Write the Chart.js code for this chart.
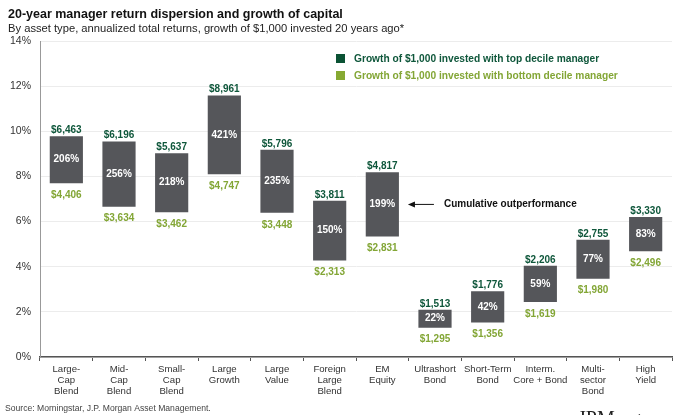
<!DOCTYPE html>
<html>
<head>
<meta charset="utf-8">
<script src="https://cdn.jsdelivr.net/npm/chart.js@4.4.1/dist/chart.umd.min.js"></script>
<style>
  html, body { margin: 0; padding: 0; background: #ffffff; }
  #wrap { width: 680px; height: 415px; position: relative; }
</style>
</head>
<body>
<div id="wrap"><canvas id="c" width="680" height="415"></canvas></div>
<script>
// ---- data ----
const categories = [
  ["Large-", "Cap", "Blend"], ["Mid-", "Cap", "Blend"], ["Small-", "Cap", "Blend"],
  ["Large", "Growth"], ["Large", "Value"], ["Foreign", "Large", "Blend"],
  ["EM", "Equity"], ["Ultrashort", "Bond"], ["Short-Term", "Bond"],
  ["Interm.", "Core + Bond"], ["Multi-", "sector", "Bond"], ["High", "Yield"]
];
const topDecilePct    = [9.78, 9.55, 9.03, 11.59, 9.18, 6.92, 8.18, 2.09, 2.91, 4.04, 5.20, 6.20];
const bottomDecilePct = [7.70, 6.66, 6.41, 8.10, 6.39, 4.28, 5.34, 1.30, 1.53, 2.44, 3.47, 4.68];
const topDecileGrowth    = ["$6,463", "$6,196", "$5,637", "$8,961", "$5,796", "$3,811", "$4,817", "$1,513", "$1,776", "$2,206", "$2,755", "$3,330"];
const bottomDecileGrowth = ["$4,406", "$3,634", "$3,462", "$4,747", "$3,448", "$2,313", "$2,831", "$1,295", "$1,356", "$1,619", "$1,980", "$2,496"];
const outperformance = ["206%", "256%", "218%", "421%", "235%", "150%", "199%", "22%", "42%", "59%", "77%", "83%"];
const yTicks = [0, 2, 4, 6, 8, 10, 12, 14];
const annotationIndex = 6;

const FONT = "'Liberation Sans', Arial, sans-serif";
const GREEN_DARK = "#0f573b";
const GREEN_LIGHT = "#83a636";

const ranges = topDecilePct.map((t, i) => [bottomDecilePct[i], t]);

const decor = {
  id: "decor",
  afterDatasetsDraw(chart) {
    const ctx = chart.ctx;
    const meta = chart.getDatasetMeta(0);
    const y = chart.scales.y;
    ctx.save();
    ctx.font = "bold 10px " + FONT;
    ctx.textAlign = "center";
    meta.data.forEach((bar, i) => {
      const yt = y.getPixelForValue(topDecilePct[i]);
      const yb = y.getPixelForValue(bottomDecilePct[i]);
      ctx.textBaseline = "alphabetic";
      ctx.fillStyle = GREEN_DARK;
      ctx.fillText(topDecileGrowth[i], bar.x, yt - 3);
      ctx.fillStyle = GREEN_LIGHT;
      ctx.textBaseline = "middle";
      ctx.fillText(bottomDecileGrowth[i], bar.x, yb + 12);
      ctx.fillStyle = "#ffffff";
      ctx.fillText(outperformance[i], bar.x, (yt + yb) / 2);
    });
    // annotation
    const b = meta.data[annotationIndex];
    const ay = (y.getPixelForValue(topDecilePct[annotationIndex]) + y.getPixelForValue(bottomDecilePct[annotationIndex])) / 2;
    const ax = b.x + b.width / 2 + 9;
    ctx.strokeStyle = "#111";
    ctx.lineWidth = 1;
    ctx.beginPath();
    ctx.moveTo(ax + 26, ay);
    ctx.lineTo(ax + 3, ay);
    ctx.stroke();
    ctx.fillStyle = "#111";
    ctx.beginPath();
    ctx.moveTo(ax, ay);
    ctx.lineTo(ax + 7, ay - 3);
    ctx.lineTo(ax + 7, ay + 3);
    ctx.closePath();
    ctx.fill();
    ctx.textAlign = "left";
    ctx.textBaseline = "middle";
    ctx.font = "bold 10px " + FONT;
    ctx.fillText("Cumulative outperformance", ax + 36, ay);

    // titles
    ctx.textBaseline = "alphabetic";
    ctx.fillStyle = "#111";
    ctx.font = "bold 12.5px " + FONT;
    ctx.fillText("20-year manager return dispersion and growth of capital", 8, 18);
    ctx.font = "11.2px " + FONT;
    ctx.fillStyle = "#222";
    ctx.fillText("By asset type, annualized total returns, growth of $1,000 invested 20 years ago*", 8, 32);

    // legend
    ctx.fillStyle = "#0b5234";
    ctx.fillRect(336, 54, 9, 9);
    ctx.fillStyle = "#86a932";
    ctx.fillRect(336, 71, 9, 9);
    ctx.font = "bold 10.2px " + FONT;
    ctx.textBaseline = "middle";
    ctx.fillStyle = GREEN_DARK;
    ctx.fillText("Growth of $1,000 invested with top decile manager", 354, 59);
    ctx.fillStyle = GREEN_LIGHT;
    ctx.fillText("Growth of $1,000 invested with bottom decile manager", 354, 76);

    // source
    ctx.font = "8.6px " + FONT;
    ctx.fillStyle = "#444";
    ctx.textBaseline = "alphabetic";
    ctx.fillText("Source: Morningstar, J.P. Morgan Asset Management.", 5, 411);

    // cropped logo text
    ctx.font = "20px 'Liberation Serif', serif";
    ctx.fillStyle = "#222";
    ctx.fillText("JPMorgan", 578, 425);
    ctx.restore();
  }
};

new Chart(document.getElementById("c"), {
  type: "bar",
  data: {
    labels: categories,
    datasets: [{
      data: ranges,
      backgroundColor: "#55565a",
      borderSkipped: false,
      categoryPercentage: 1.0,
      barPercentage: 0.63
    }]
  },
  options: {
    responsive: false,
    animation: false,
    devicePixelRatio: 1,
    layout: { padding: { top: 41, right: 8, bottom: 0, left: 0 } },
    plugins: { legend: { display: false }, tooltip: { enabled: false } },
    scales: {
      x: {
        afterFit(s) { s.height = 58; },
        grid: { display: true, drawOnChartArea: false, tickLength: 4, color: "#555", offset: true },
        border: { color: "#555", width: 1.5 },
        ticks: { color: "#333", font: { family: FONT, size: 9.6, lineHeight: 1.15 }, padding: 3, maxRotation: 0, autoSkip: false }
      },
      y: {
        min: 0, max: 14,
        afterFit(s) { s.width = 40; },
        afterBuildTicks(s) { s.ticks = yTicks.map(v => ({ value: v })); },
        grid: { color: "#ececec", tickLength: 0 },
        border: { color: "#999", width: 1 },
        ticks: { color: "#333", font: { family: FONT, size: 10.5 }, padding: 9, callback: v => v + "%" }
      }
    }
  },
  plugins: [decor]
});
</script>
</body>
</html>
